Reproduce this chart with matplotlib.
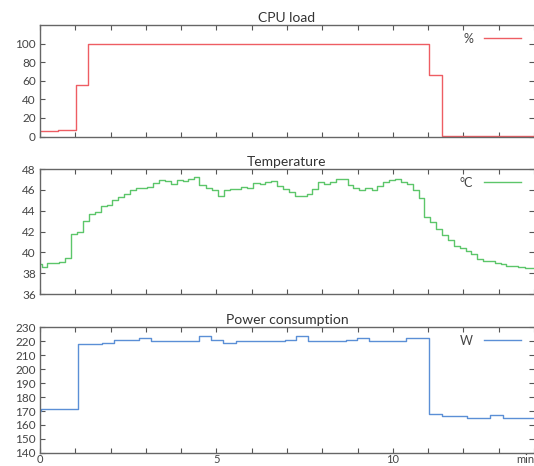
import matplotlib
import matplotlib.pyplot as plt

matplotlib.use("Agg")

plt.rcParams["font.family"] = ["Lato", "DejaVu Sans"]

# step data: start time of each step (min) and the value held from there on
cpu_t = [0, 0.51, 1.03, 1.37, 11.02, 11.39]
cpu_v = [6.5, 7.5, 55.8, 100, 66, 0.5]

temp_t = [0, 0.05, 0.19, 0.53, 0.70, 0.87, 1.06, 1.21, 1.38, 1.55, 1.72, 1.89, 2.05, 2.22,
          2.37, 2.54, 2.71, 3.02, 3.21, 3.38, 3.55, 3.71, 3.87, 4.04, 4.20, 4.37, 4.51, 4.70,
          4.88, 5.05, 5.21, 5.38, 5.71, 5.88, 6.05, 6.23, 6.37, 6.56, 6.71, 6.89, 7.06, 7.22,
          7.56, 7.71, 7.88, 8.05, 8.22, 8.39, 8.72, 8.88, 9.04, 9.21, 9.42, 9.55, 9.72, 9.90,
          10.06, 10.22, 10.39, 10.56, 10.73, 10.89, 11.05, 11.22, 11.39, 11.56, 11.72, 11.90,
          12.07, 12.23, 12.40, 12.56, 12.89, 13.06, 13.22, 13.55, 13.74]
temp_v = [38.85, 38.6, 38.95, 39.05, 39.5, 41.75, 42.0, 43.0, 43.65, 43.85, 44.45, 44.6, 45.0, 45.3,
          45.6, 46.0, 46.15, 46.3, 46.7, 47.0, 46.9, 46.6, 47.0, 46.85, 47.1, 47.2, 46.45, 46.2,
          45.98, 45.44, 45.98, 46.08, 46.3, 46.2, 46.69, 46.62, 46.72, 46.91, 46.4, 46.08, 45.82, 45.44,
          45.57, 46.05, 46.78, 46.62, 46.78, 47.04, 46.46, 46.2, 45.98, 46.2, 46.0, 46.4, 46.72, 46.94,
          47.1, 46.78, 46.53, 45.98, 45.25, 43.42, 42.94, 42.24, 41.66, 41.18, 40.64, 40.39,
          40.13, 39.81, 39.36, 39.17, 38.95, 38.85, 38.72, 38.62, 38.53]

power_t = [0, 0.03, 1.09, 1.76, 2.10, 2.81, 3.16, 4.50, 4.86, 5.20, 5.55, 6.94, 7.27, 7.61,
           8.67, 8.99, 9.33, 10.36, 11.03, 11.40, 12.09, 12.76, 13.12]
power_v = [170, 171.2, 218, 219, 221, 222.5, 220, 223.3, 221, 219, 220, 221, 223.5, 220,
           221, 222, 220, 222, 167.6, 166.4, 164.8, 167.5, 164.8]

t_end = 14

panels = [
    ("CPU load", cpu_t, cpu_v, "%", "#ee5d63", (0, 120), range(0, 101, 20)),
    ("Temperature", temp_t, temp_v, "°C", "#5cc66a", (36, 48), range(36, 49, 2)),
    ("Power consumption", power_t, power_v, "W", "#5b8fd6", (140, 230), range(140, 231, 10)),
]
# axes boxes in figure fractions: left, bottom, width, height
boxes = [
    (0.0749, 0.707, 0.925, 0.239),
    (0.0749, 0.369, 0.925, 0.268),
    (0.0749, 0.028, 0.925, 0.270),
]

fig = plt.figure(figsize=(5.34, 4.66), dpi=100)
axes = []
for (title, t, v, unit, color, ylim, yticks), box in zip(panels, boxes):
    ax = fig.add_axes(box)
    ax.step(list(t) + [t_end], list(v) + [v[-1]], where="post", color=color, lw=1.0, label=unit)
    ax.set_xlim(0, t_end)
    ax.set_ylim(*ylim)
    ax.set_yticks(list(yticks))
    ax.set_xticks(range(0, t_end + 1))
    ax.set_xticklabels([])
    ax.set_title(title, fontsize=10, color="#333333", pad=2.5)
    ax.tick_params(direction="in", length=3.5, width=0.8, color="#555555",
                   labelsize=8.5, labelcolor="#444444", top=True, right=True, pad=3)
    ax.tick_params(axis="x", pad=1.0, labelsize=8)
    for s in ["left", "bottom", "top"]:
        ax.spines[s].set_color("#666666")
        ax.spines[s].set_linewidth(1.0)
    ax.spines["right"].set_visible(False)
    leg = ax.legend(loc="upper right", frameon=False, markerfirst=False, handlelength=2.9,
                    handletextpad=0.9, fontsize=9, borderaxespad=0.2, bbox_to_anchor=(0.988, 1.0))
    for txt in leg.get_texts():
        txt.set_color("#444444")
    axes.append(ax)

axes[-1].set_xticklabels(["0", "", "", "", "", "5", "", "", "", "", "10", "", "", "", ""])
axes[-1].text(1.0, -0.012, "min", transform=axes[-1].transAxes, ha="right", va="top",
              fontsize=8, color="#444444")

fig.savefig("out.png", dpi=100)
